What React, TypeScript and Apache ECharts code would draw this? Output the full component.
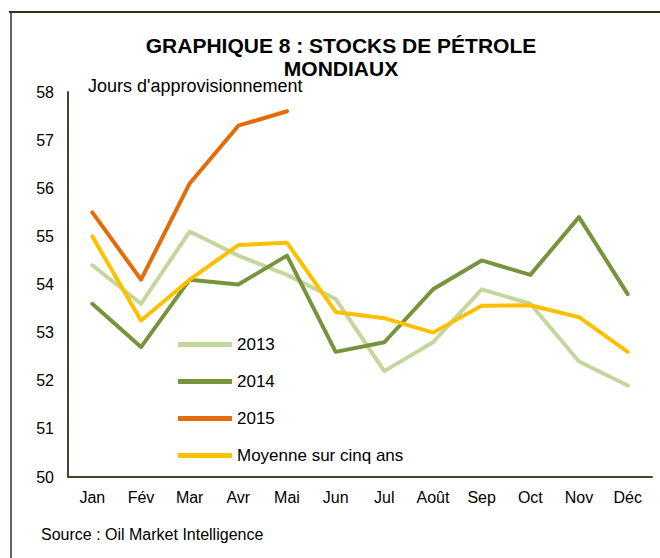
import React, { useEffect, useRef } from "react";
import * as echarts from "echarts";

const months = ["Jan", "Fév", "Mar", "Avr", "Mai", "Jun", "Jul", "Août", "Sep", "Oct", "Nov", "Déc"];
const s2013 = [54.4, 53.6, 55.1, 54.6, 54.2, 53.7, 52.2, 52.8, 53.9, 53.6, 52.4, 51.9];
const s2014 = [53.6, 52.7, 54.1, 54.0, 54.6, 52.6, 52.8, 53.9, 54.5, 54.2, 55.4, 53.8];
const s2015 = [55.5, 54.1, 56.1, 57.3, 57.6];
const sAvg = [55.0, 53.25, 54.1, 54.82, 54.87, 53.43, 53.3, 53.0, 53.56, 53.57, 53.32, 52.6];
const seriesNames = ["2013", "2014", "2015", "Moyenne sur cinq ans"];
const yTicks = { min: 50, max: 58, interval: 1 };

const FONT = "'Liberation Sans', Arial, sans-serif";

export default function App() {
  const ref = useRef<HTMLDivElement>(null);
  useEffect(() => {
    document.body.style.margin = "0";
    const chart = echarts.init(ref.current!, null, { renderer: "svg" });
    const colors = ["#c3d69b", "#77933c", "#e36c09", "#ffc000"];
    const data = [s2013, s2014, s2015, sAvg];
    chart.setOption({
      animation: false,
      textStyle: { fontFamily: FONT },
      title: {
        text: "GRAPHIQUE 8 : STOCKS DE PÉTROLE\nMONDIAUX",
        left: 341,
        top: 34,
        padding: 0,
        textAlign: "center",
        textStyle: { fontFamily: FONT, fontSize: 21, fontWeight: "bold", color: "#000", lineHeight: 23 },
      },
      legend: {
        orient: "vertical",
        left: 178,
        top: 336,
        padding: 0,
        icon: "rect",
        itemWidth: 54,
        itemHeight: 5,
        itemGap: 20,
        data: seriesNames,
        textStyle: { fontFamily: FONT, fontSize: 17, color: "#000", lineHeight: 17 },
      },
      grid: { left: 68, right: 8, top: 92, bottom: 81, containLabel: false },
      xAxis: {
        type: "category",
        data: months,
        boundaryGap: true,
        axisLine: { lineStyle: { color: "#3b4a2c", width: 2 } },
        axisTick: { show: false },
        axisLabel: { color: "#000", fontSize: 16, margin: 12, fontFamily: FONT },
      },
      yAxis: {
        type: "value",
        min: yTicks.min,
        max: yTicks.max,
        interval: yTicks.interval,
        axisLine: { show: true, lineStyle: { color: "#3b4a2c", width: 2 } },
        axisTick: { show: false },
        splitLine: { show: false },
        axisLabel: { color: "#000", fontSize: 16, margin: 14, fontFamily: FONT },
      },
      series: seriesNames.map((name, i) => ({
        name,
        type: "line",
        data: data[i],
        symbol: "none",
        color: colors[i],
        lineStyle: { width: 4, color: colors[i], cap: "round", join: "round" },
        z: i === 2 ? 5 : i === 3 ? 4 : i + 2,
      })),
      graphic: [
        { type: "line", shape: { x1: 9, y1: 12, x2: 660, y2: 12 }, style: { stroke: "#2a3520", lineWidth: 2 } },
        { type: "line", shape: { x1: 11, y1: 12, x2: 11, y2: 558 }, style: { stroke: "#2a3520", lineWidth: 1.5 } },
        {
          type: "text",
          left: 88,
          top: 77,
          style: { text: "Jours d'approvisionnement", font: `18px ${FONT}`, fill: "#000" },
        },
        {
          type: "text",
          left: 41,
          top: 526,
          style: { text: "Source : Oil Market Intelligence", font: `16px ${FONT}`, fill: "#000" },
        },
      ],
    });
    return () => chart.dispose();
  }, []);
  return <div ref={ref} style={{ width: 660, height: 558 }} />;
}
